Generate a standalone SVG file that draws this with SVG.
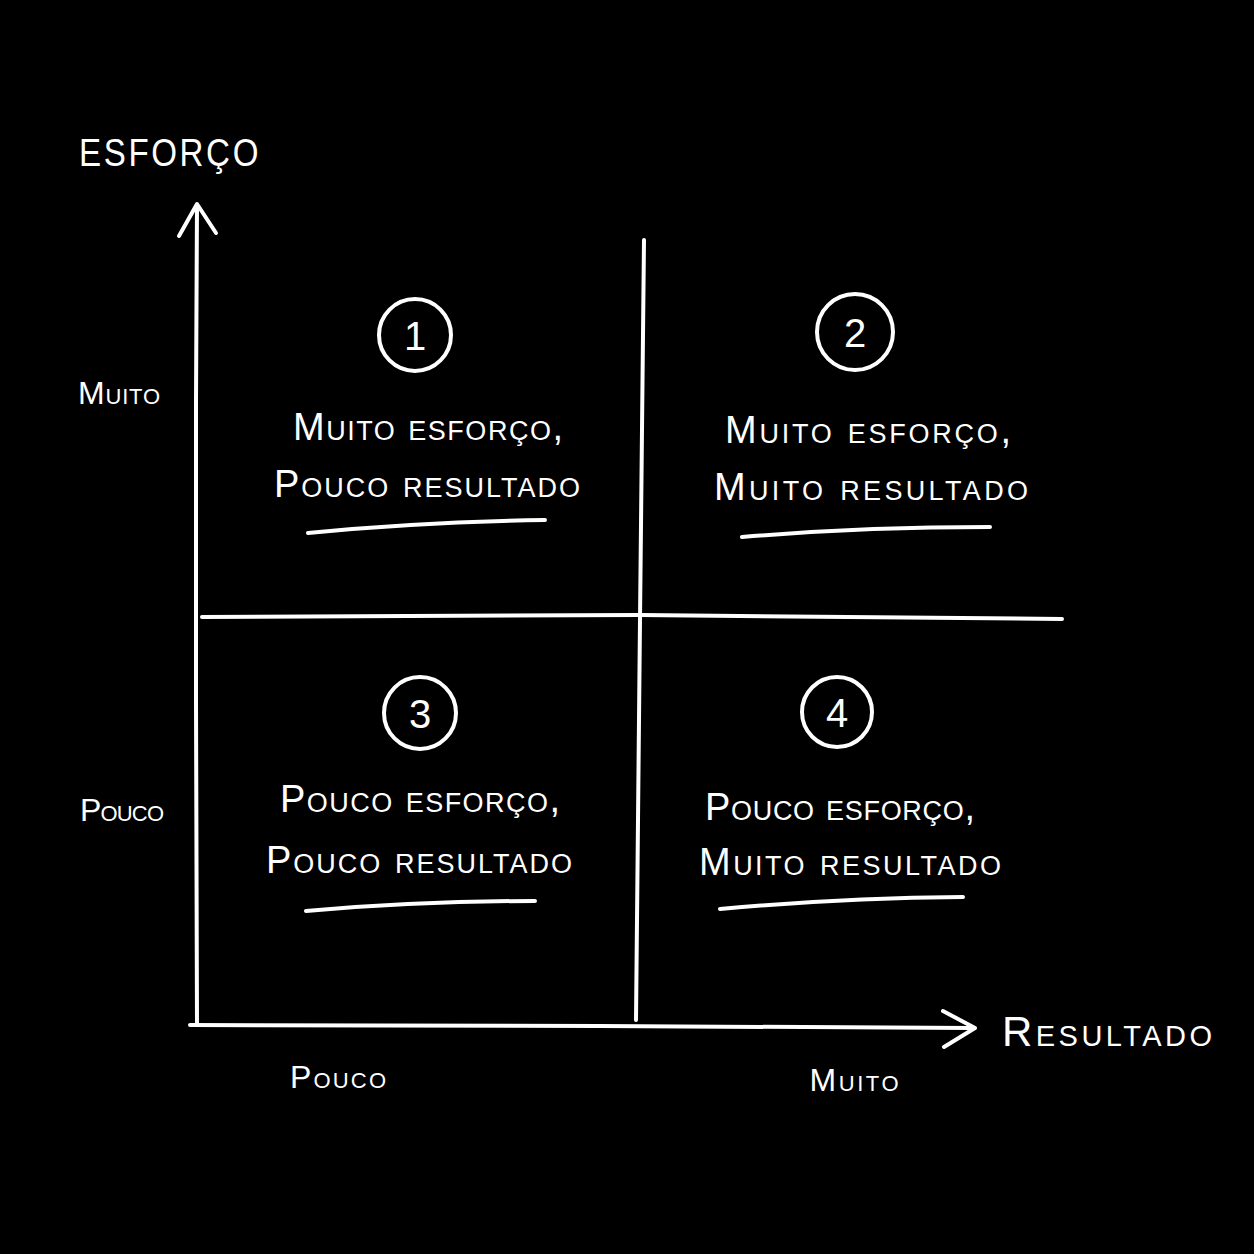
<svg xmlns="http://www.w3.org/2000/svg" width="1254" height="1254" viewBox="0 0 1254 1254">
<style>
.ln{stroke:#fff;stroke-width:4;fill:none;stroke-linecap:round;stroke-linejoin:round}
.t{fill:#fff;font-family:"Liberation Sans",Arial,sans-serif;font-variant:small-caps;text-anchor:middle}
.q{font-size:38px}
.num{font-size:40px;font-variant:normal}
.ax{font-size:32px}
</style>
<rect width="1254" height="1254" fill="#000"/>
<g id="connectors">
<path class="ln" d="M197,1025 L196,700 L196,400 L197,206"/>
<path class="ln" d="M179,236 L197,204 L216,233"/>
<path class="ln" d="M190,1025 L600,1026 L972,1028"/>
<path class="ln" d="M943,1011 L975,1028 L944,1047"/>
<path class="ln" d="M644,240 L640,620 L636,1020"/>
<path class="ln" d="M202,617 L640,615 L1062,619"/>
</g>
<g id="axis-y-label"><text class="t" x="170" y="166" font-size="38" letter-spacing="3" textLength="182" lengthAdjust="spacingAndGlyphs">ESFORÇO</text></g>
<g id="axis-x-label"><text class="t" x="1107" y="1046" font-size="42" textLength="210" lengthAdjust="spacing">Resultado</text></g>
<g id="y-muito"><text class="t ax" x="119" y="404" textLength="82" lengthAdjust="spacing">Muito</text></g>
<g id="y-pouco"><text class="t ax" x="122" y="821" textLength="84" lengthAdjust="spacing">Pouco</text></g>
<g id="x-pouco"><text class="t ax" x="338" y="1088" textLength="96" lengthAdjust="spacing">Pouco</text></g>
<g id="x-muito"><text class="t ax" x="854" y="1091" textLength="89" lengthAdjust="spacing">Muito</text></g>
<g id="q1">
<circle class="ln" cx="415" cy="335" r="36" stroke-width="3.5"/>
<text class="t num" x="415" y="350">1</text>
<text class="t q" x="428" y="440" textLength="270" lengthAdjust="spacing">Muito esforço,</text>
<text class="t q" x="427" y="497" textLength="306" lengthAdjust="spacing">Pouco resultado</text>
<path class="ln" d="M308,533 Q420,522 545,520"/>
</g>
<g id="q2">
<circle class="ln" cx="855" cy="332" r="38" stroke-width="3.5"/>
<text class="t num" x="855" y="347">2</text>
<text class="t q" x="868" y="443" textLength="286" lengthAdjust="spacing">Muito esforço,</text>
<text class="t q" x="871" y="500" textLength="314" lengthAdjust="spacing">Muito resultado</text>
<path class="ln" d="M742,537 Q860,527 990,527"/>
</g>
<g id="q3">
<circle class="ln" cx="420" cy="713" r="36" stroke-width="3.5"/>
<text class="t num" x="420" y="728">3</text>
<text class="t q" x="420" y="812" textLength="280" lengthAdjust="spacing">Pouco esforço,</text>
<text class="t q" x="419" y="873" textLength="306" lengthAdjust="spacing">Pouco resultado</text>
<path class="ln" d="M306,911 Q420,901 535,901"/>
</g>
<g id="q4">
<circle class="ln" cx="837" cy="712" r="35" stroke-width="3.5"/>
<text class="t num" x="837" y="727">4</text>
<text class="t q" x="840" y="820" textLength="270" lengthAdjust="spacing">Pouco esforço,</text>
<text class="t q" x="850" y="875" textLength="302" lengthAdjust="spacing">Muito resultado</text>
<path class="ln" d="M720,909 Q840,898 963,897"/>
</g>
</svg>
